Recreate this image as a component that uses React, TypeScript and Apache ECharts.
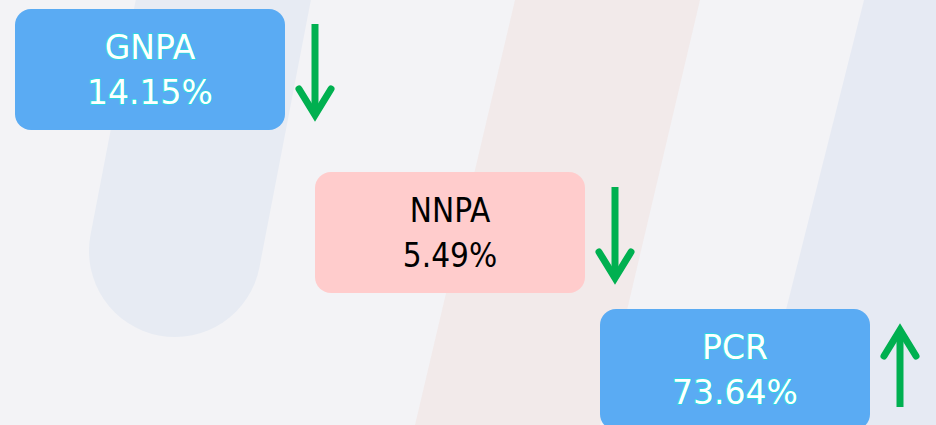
import React, { useEffect, useRef } from "react";
import * as echarts from "echarts";

const metrics = ["GNPA", "NNPA", "PCR"];
const values = [14.15, 5.49, 73.64];
const directions = ["down", "down", "up"];
const boxColors = ["#5aabf3", "#ffcccc", "#5aabf3"];
const textColors = ["#ffffff", "#000000", "#ffffff"];

const W = 936;
const H = 425;
const BOX_X = [15, 315, 600];
const BOX_Y = [9, 172, 309];
const BOX_W = 270;
const BOX_H = 121;
const GREEN = "#00b050";

function buildGraphics() {
  const els: any[] = [];
  els.push({ type: "rect", shape: { x: 0, y: 0, width: W, height: H }, style: { fill: "#f3f3f6" }, silent: true });
  // faint background bands
  els.push({
    type: "rect",
    x: 175,
    y: 251,
    rotation: -0.19,
    shape: { x: -86, y: -600, width: 172, height: 686, r: 86 },
    style: { fill: "#e7ebf3" },
    silent: true,
  });
  els.push({
    type: "polygon",
    shape: { points: [[515, 0], [700, 0], [600, 425], [415, 425]] },
    style: { fill: "#f2eaea" },
    silent: true,
  });
  els.push({
    type: "polygon",
    shape: { points: [[864, 0], [W, 0], [W, H], [757, H]] },
    style: { fill: "#e6eaf3" },
    silent: true,
  });

  metrics.forEach((m, i) => {
    const x = BOX_X[i];
    const y = BOX_Y[i];
    const cx = x + BOX_W / 2;
    const cy = y + BOX_H / 2;
    els.push({
      type: "rect",
      shape: { x, y, width: BOX_W, height: BOX_H, r: 16 },
      style: { fill: boxColors[i] },
    });
    const isBlue = textColors[i] === "#ffffff";
    const font = isBlue
      ? "33px 'DejaVu Sans'"
      : "33px 'DejaVu Sans Condensed', 'DejaVu Sans'";
    const common: any = {
      fill: textColors[i],
      font,
      align: "center",
      verticalAlign: "middle",
    };
    if (isBlue) {
      common.stroke = "#22dede";
      common.lineWidth = 1.5;
    }
    els.push({ type: "text", style: { ...common, text: m, x: cx, y: cy - 22 } });
    els.push({ type: "text", style: { ...common, text: values[i].toFixed(2) + "%", x: cx, y: cy + 23 } });

    const ax = x + BOX_W + 30;
    if (directions[i] === "down") {
      const top = y + 15;
      const tip = y + 111;
      els.push({ type: "line", shape: { x1: ax, y1: top, x2: ax, y2: tip - 6 }, style: { stroke: GREEN, lineWidth: 7, lineCap: "butt" } });
      els.push({
        type: "polyline",
        shape: { points: [[ax - 16, tip - 31], [ax, tip - 5], [ax + 16, tip - 31]] },
        style: { stroke: GREEN, lineWidth: 7, lineCap: "round", lineJoin: "miter", fill: null },
      });
    } else {
      const tip = y + 16;
      const bottom = y + 98;
      els.push({ type: "line", shape: { x1: ax, y1: tip + 6, x2: ax, y2: bottom }, style: { stroke: GREEN, lineWidth: 7, lineCap: "butt" } });
      els.push({
        type: "polyline",
        shape: { points: [[ax - 16, tip + 31], [ax, tip + 5], [ax + 16, tip + 31]] },
        style: { stroke: GREEN, lineWidth: 7, lineCap: "round", lineJoin: "miter", fill: null },
      });
    }
  });
  return els;
}

export default function App() {
  const ref = useRef<HTMLDivElement>(null);
  useEffect(() => {
    if (!ref.current) return;
    const chart = echarts.init(ref.current, null, { renderer: "svg" });
    chart.setOption({
      animation: false,
      backgroundColor: "#f3f3f6",
      graphic: { elements: buildGraphics() },
    });
    return () => chart.dispose();
  }, []);
  return (
    <div
      ref={ref}
      style={{ position: "fixed", left: 0, top: 0, width: W, height: H }}
    />
  );
}
